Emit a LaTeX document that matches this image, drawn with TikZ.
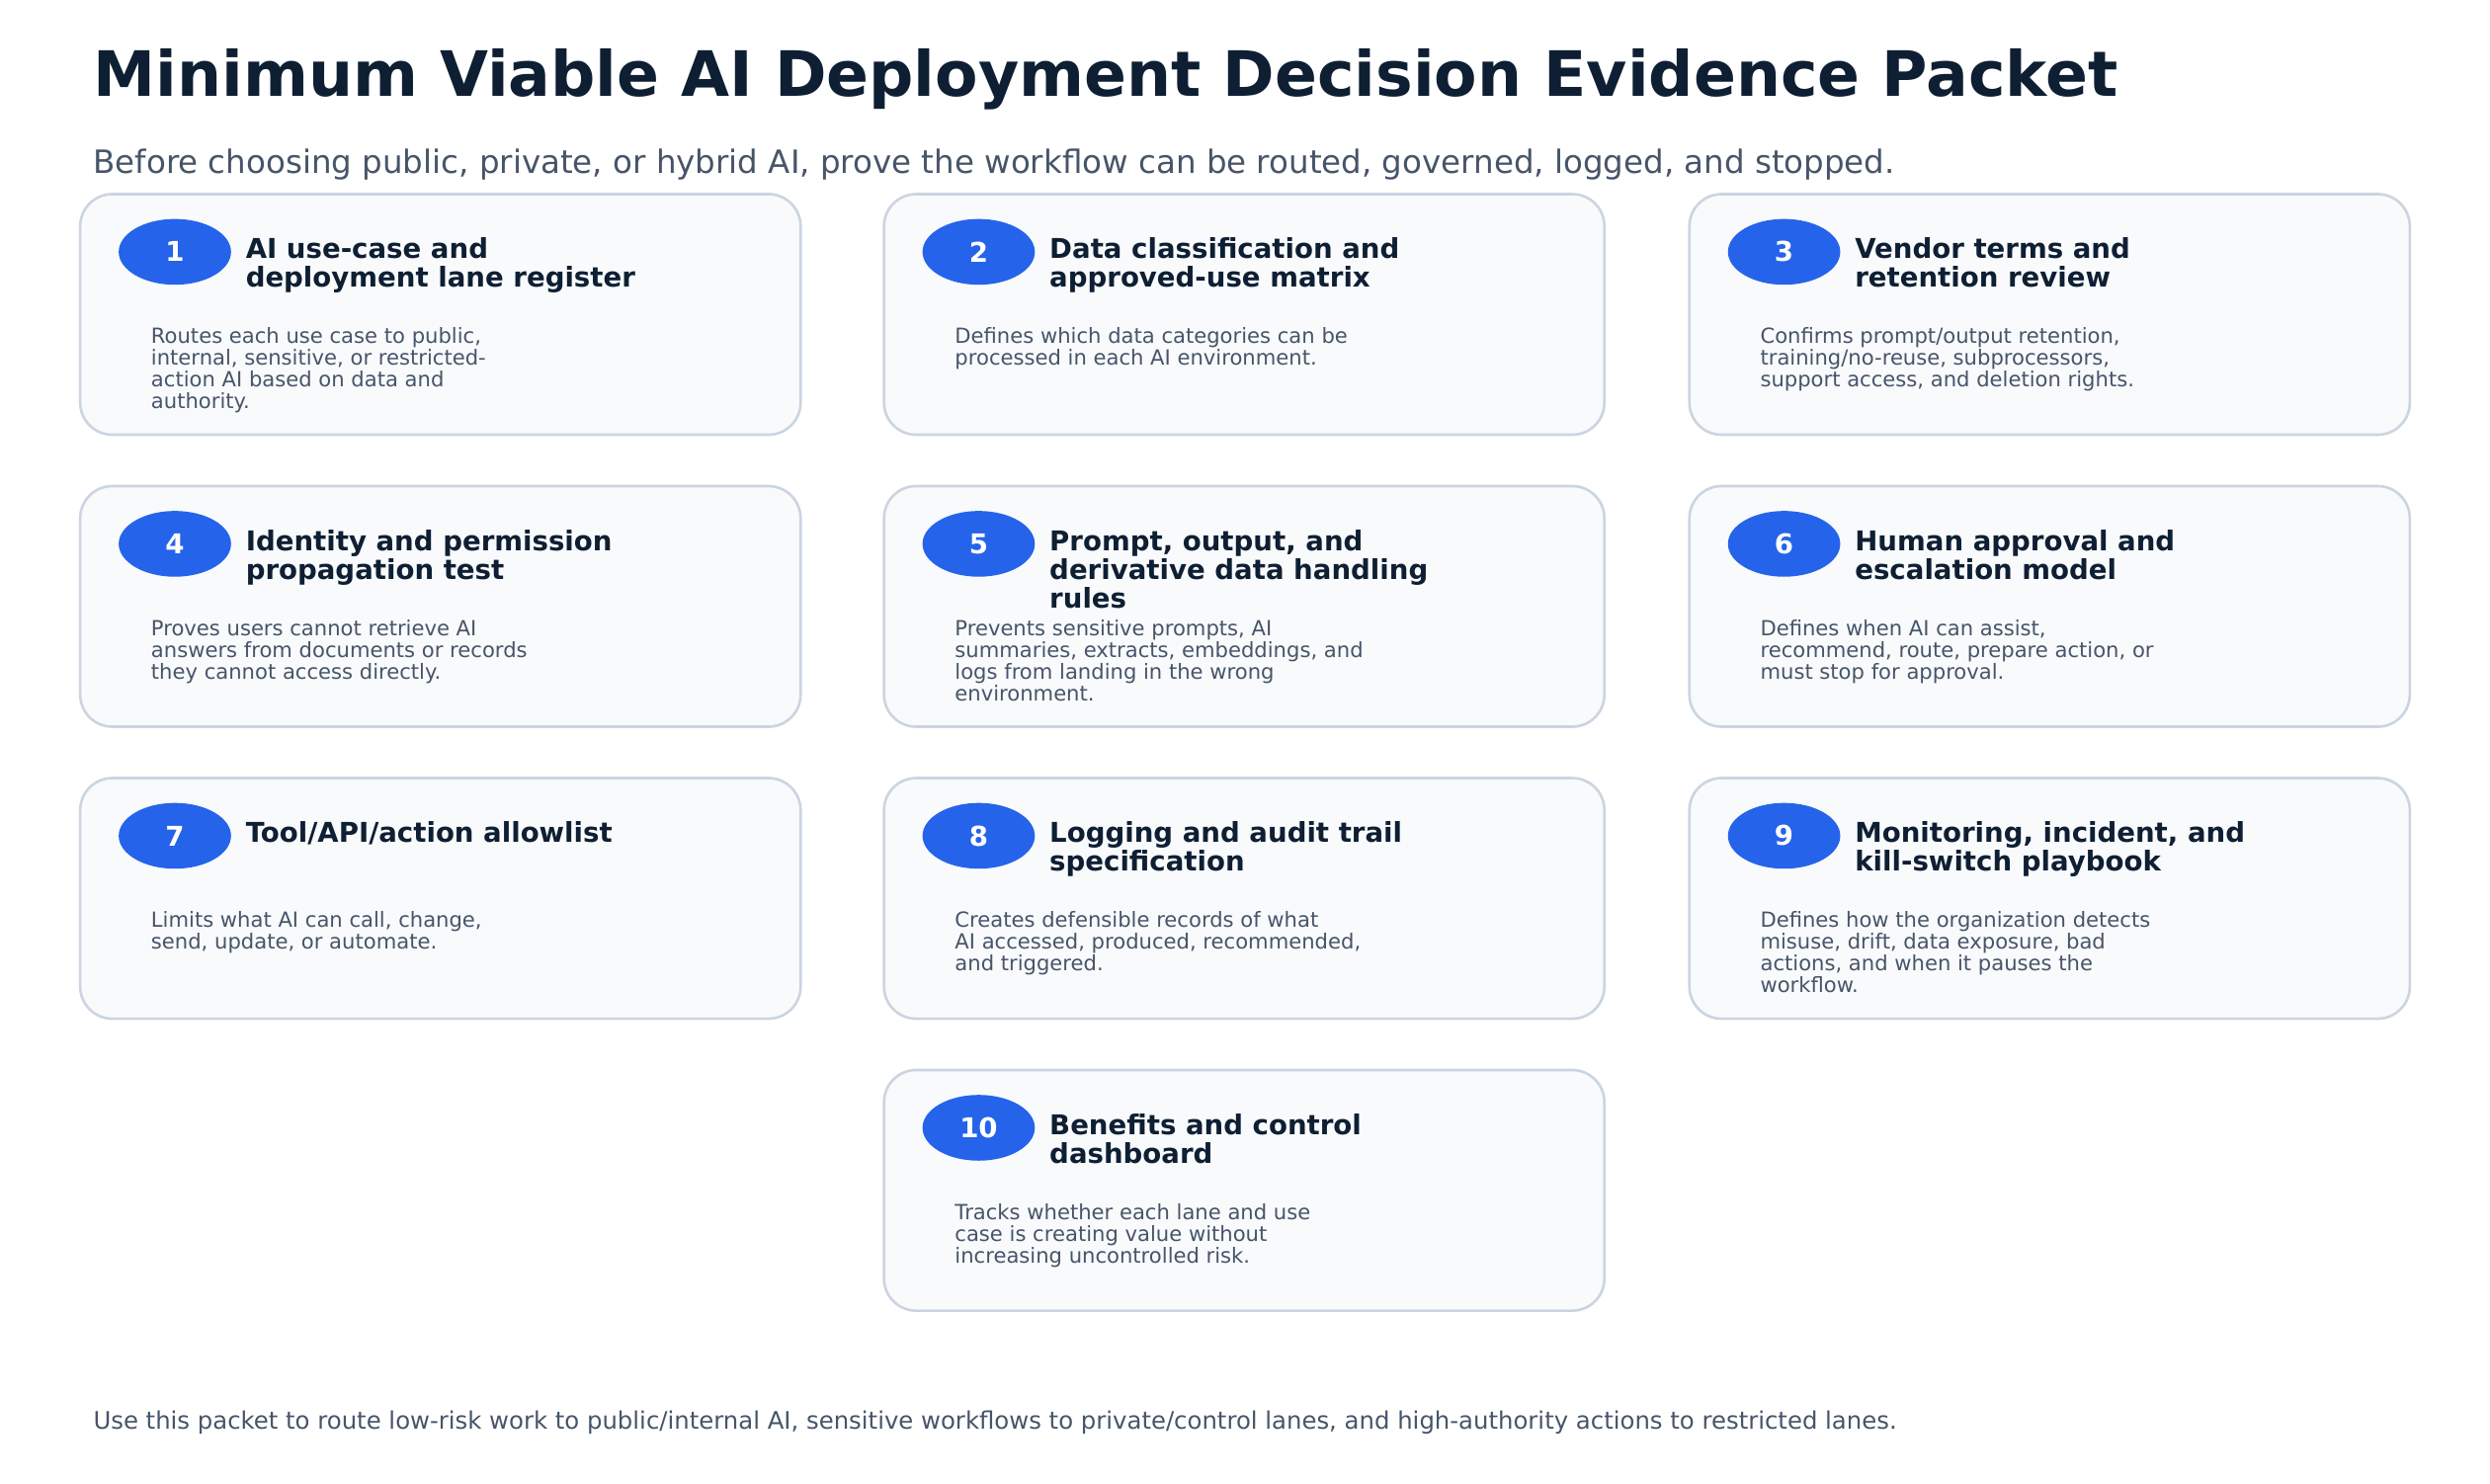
\documentclass[tikz,border=0pt]{standalone}
\usepackage{fontspec}
\setmainfont{DejaVu Sans}
\definecolor{navy}{HTML}{0F1F33}
\definecolor{slate}{HTML}{475569}
\definecolor{boxfill}{HTML}{F8FAFC}
\definecolor{boxline}{HTML}{CBD5E1}
\definecolor{pill}{HTML}{2563EB}
\tikzset{
 card/.style={draw=boxline,line width=1.6pt,fill=boxfill,rounded corners=20pt},
 badge/.style={ellipse,fill=pill,minimum width=70pt,minimum height=41pt,inner sep=0pt,text=white,font=\fontsize{17}{17}\selectfont\bfseries},
 ttl/.style={anchor=north west,align=left,inner sep=0pt,text=navy,font=\fontsize{17}{18}\selectfont\bfseries},
 dsc/.style={anchor=north west,align=left,inner sep=0pt,text=slate,font=\fontsize{13}{13.6}\selectfont},
}
\usetikzlibrary{shapes.geometric}
\begin{document}
\begin{tikzpicture}[x=1pt,y=-1pt]
\useasboundingbox[fill=white] (0,0) rectangle (1552,925);
\node[anchor=base west,inner sep=0pt,text=navy,font=\fontsize{39}{40}\selectfont\bfseries] (title) at (58,60) {Minimum Viable AI Deployment Decision Evidence Packet};
\node[anchor=base west,inner sep=0pt,text=slate,font=\fontsize{20}{22}\selectfont] (sub) at (58,108) {Before choosing public, private, or hybrid AI, prove the workflow can be routed, governed, logged, and stopped.};
\newcommand{\card}[6]{%
 \draw[card] (#1,#2) rectangle ++(449,150);
 \node[badge] (b#3) at (#1+59,#2+36) {#3};
 \node[ttl] (t#3) at (#1+103,#2+27) {#4};
 \node[dsc] (d#3) at (#1+44,#2+83) {#5};
}
\card{50}{121}{1}{AI use-case and\\deployment lane register}{Routes each use case to public,\\internal, sensitive, or restricted-\\action AI based on data and\\authority.}{}
\card{551}{121}{2}{Data classification and\\approved-use matrix}{Defines which data categories can be\\processed in each AI environment.}{}
\card{1053}{121}{3}{Vendor terms and\\retention review}{Confirms prompt/output retention,\\training/no-reuse, subprocessors,\\support access, and deletion rights.}{}
\card{50}{303}{4}{Identity and permission\\propagation test}{Proves users cannot retrieve AI\\answers from documents or records\\they cannot access directly.}{}
\card{551}{303}{5}{Prompt, output, and\\derivative data handling\\rules}{Prevents sensitive prompts, AI\\summaries, extracts, embeddings, and\\logs from landing in the wrong\\environment.}{}
\card{1053}{303}{6}{Human approval and\\escalation model}{Defines when AI can assist,\\recommend, route, prepare action, or\\must stop for approval.}{}
\card{50}{485}{7}{Tool/API/action allowlist}{Limits what AI can call, change,\\send, update, or automate.}{}
\card{551}{485}{8}{Logging and audit trail\\specification}{Creates defensible records of what\\AI accessed, produced, recommended,\\and triggered.}{}
\card{1053}{485}{9}{Monitoring, incident, and\\kill-switch playbook}{Defines how the organization detects\\misuse, drift, data exposure, bad\\actions, and when it pauses the\\workflow.}{}
\card{551}{667}{10}{Benefits and control\\dashboard}{Tracks whether each lane and use\\case is creating value without\\increasing uncontrolled risk.}{}
\node[anchor=base west,inner sep=0pt,text=slate,font=\fontsize{15}{16}\selectfont] (foot) at (58,891) {Use this packet to route low-risk work to public/internal AI, sensitive workflows to private/control lanes, and high-authority actions to restricted lanes.};
\end{tikzpicture}
\end{document}
